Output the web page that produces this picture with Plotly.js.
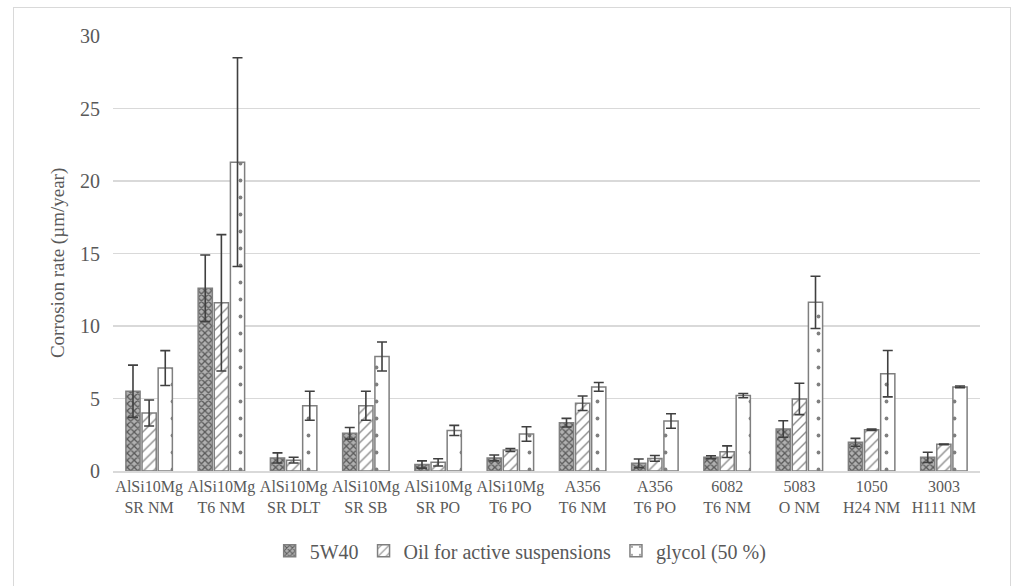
<!DOCTYPE html>
<html><head><meta charset="utf-8">
<script src="https://cdn.plot.ly/plotly-3.0.1.min.js"></script>
<style>body{margin:0;background:#fff;overflow:hidden}#wrap{position:relative;width:1011px;height:586px}#chart{width:1011px;height:586px}
#frame{position:absolute;left:13px;top:7px;width:996px;height:600px;border:1px solid #d9d9d9;pointer-events:none}</style>
</head><body><div id="wrap"><div id="chart"></div><div id="frame"></div></div>
<script>
const categories = ["AlSi10Mg<br>SR NM","AlSi10Mg<br>T6 NM","AlSi10Mg<br>SR DLT","AlSi10Mg<br>SR SB","AlSi10Mg<br>SR PO","AlSi10Mg<br>T6 PO","A356<br>T6 NM","A356<br>T6 PO","6082<br>T6 NM","5083<br>O NM","1050<br>H24 NM","3003<br>H111 NM"];
const v5W40   = [5.5, 12.6, 0.9, 2.6, 0.45, 0.9, 3.33, 0.53, 0.95, 2.9, 1.98, 0.94];
const e5W40   = [1.8, 2.3, 0.35, 0.4, 0.25, 0.2, 0.3, 0.3, 0.1, 0.57, 0.27, 0.35];
const vOil    = [4.0, 11.6, 0.75, 4.5, 0.6, 1.45, 4.67, 0.87, 1.33, 4.97, 2.85, 1.84];
const eOil    = [0.9, 4.7, 0.2, 1.0, 0.25, 0.1, 0.5, 0.2, 0.4, 1.08, 0.05, 0.02];
const vGly    = [7.1, 21.3, 4.5, 7.9, 2.8, 2.55, 5.8, 3.45, 5.2, 11.63, 6.71, 5.8];
const eGly    = [1.2, 7.2, 1.0, 1.0, 0.35, 0.5, 0.3, 0.5, 0.15, 1.8, 1.6, 0.06];
const yTitle  = 'Corrosion rate (µm/year)';

const errStyle = (arr) => ({type:'data', array:arr, visible:true, color:'#404040', thickness:1.6, width:5});
const line = {color:'#7f7f7f', width:1.5};
const traces = [
  {type:'bar', name:'5W40', x:categories, y:v5W40, error_y:errStyle(e5W40),
   marker:{color:'#8c8c8c', line:line, pattern:{shape:'x', fgcolor:'#5a5a5a', bgcolor:'#b0b0b0', size:5, solidity:0.45}}},
  {type:'bar', name:'Oil for active suspensions', x:categories, y:vOil, error_y:errStyle(eOil),
   marker:{color:'#ffffff', line:line, pattern:{shape:'/', fgcolor:'#8c8c8c', bgcolor:'#ffffff', size:7, solidity:0.2}}},
  {type:'bar', name:'glycol (50 %)', x:categories, y:vGly, error_y:errStyle(eGly),
   marker:{color:'#ffffff', line:line, pattern:{shape:'.', fgcolor:'#7f7f7f', bgcolor:'#ffffff', size:17, solidity:0.04}}}
];
const FAM = 'Liberation Serif, Times New Roman, serif';
const layout = {
  width:1011, height:586,
  margin:{l:113, r:31, t:36, b:115},
  paper_bgcolor:'#fff', plot_bgcolor:'#fff',
  font:{family:FAM, color:'#595959'},
  barmode:'group', bargap:0.33, bargroupgap:0.12,
  showlegend:true,
  legend:{orientation:'h', x:0.515, xanchor:'center', xref:'container', yref:'container', y:0.06, yanchor:'middle', font:{family:FAM, size:20, color:'#595959'}, itemwidth:30, traceorder:'normal'},
  xaxis:{type:'category', tickfont:{family:FAM, size:16, color:'#595959'}, showline:true, linecolor:'#d9d9d9', linewidth:1.5, ticks:'', showgrid:false, automargin:false},
  yaxis:{range:[0,30], dtick:5, tickfont:{family:FAM, size:20, color:'#595959'}, showgrid:true, gridcolor:'#d9d9d9', gridwidth:1.5, zeroline:false, ticks:'', ticklen:0, ticklabelstandoff:12, automargin:false},
  annotations:[{text:yTitle, textangle:-90, xref:'paper', yref:'paper', x:-0.0634, y:0.478, xanchor:'center', yanchor:'middle', showarrow:false, font:{family:FAM, size:19, color:'#595959'}}]
};
Plotly.newPlot('chart', traces, layout, {displayModeBar:false, staticPlot:true});
</script></body></html>
